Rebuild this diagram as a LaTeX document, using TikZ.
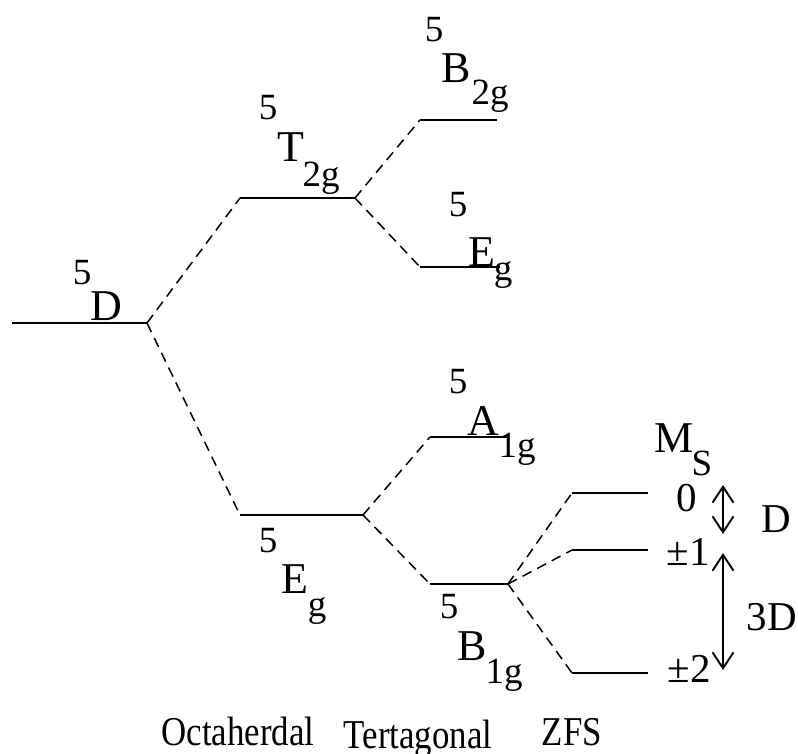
\documentclass[tikz,border=0pt]{standalone}
\usepackage{fontspec}
\setmainfont{Liberation Serif}
\newfontfamily\condfont[FakeStretch=0.85]{Liberation Serif}
\usetikzlibrary{arrows.meta}
\begin{document}
\begin{tikzpicture}[x=1pt,y=-1pt,
  level/.style={line width=1.9pt},
  split/.style={line width=1.5pt,dash pattern=on 10pt off 6.5pt},
  mainlbl/.style={anchor=base,inner sep=0pt,font=\fontsize{44}{48}\selectfont},
  zfslbl/.style={anchor=base,inner sep=0pt,font=\fontsize{41}{44}\selectfont},
  suplbl/.style={anchor=base,inner sep=0pt,font=\fontsize{37}{40}\selectfont},
  sublbl/.style={anchor=base,inner sep=0pt,font=\fontsize{37}{40}\selectfont},
  axislbl/.style={anchor=base,inner sep=0pt,font=\condfont\fontsize{41}{44}\selectfont},
  gap/.style={line width=1.9pt,{Straight Barb[length=16pt,width=21pt]}-{Straight Barb[length=16pt,width=21pt]}}]
\useasboundingbox (0,0) rectangle (798,754);
% level end points
\coordinate (Da) at (12,323);   \coordinate (Db) at (147,323);
\coordinate (Ta) at (240,198);  \coordinate (Tb) at (355,198);
\coordinate (Ea) at (240,515);  \coordinate (Eb) at (363,515);
\coordinate (B2a) at (420,120); \coordinate (B2b) at (497,120);
\coordinate (Eta) at (420,267); \coordinate (Etb) at (500,267);
\coordinate (Aa) at (430,437);  \coordinate (Ab) at (507,437);
\coordinate (B1a) at (430,584); \coordinate (B1b) at (508,584);
\coordinate (Z0a) at (572,493); \coordinate (Z0b) at (648,493);
\coordinate (Z1a) at (572,550); \coordinate (Z1b) at (648,550);
\coordinate (Z2a) at (572,673); \coordinate (Z2b) at (648,673);
% levels
\draw[level] (Da) -- (Db);
\draw[level] (Ta) -- (Tb);
\draw[level] (Ea) -- (Eb);
\draw[level] (B2a) -- (B2b);
\draw[level] (Eta) -- (Etb);
\draw[level] (Aa) -- (Ab);
\draw[level] (B1a) -- (B1b);
\draw[level] (Z0a) -- (Z0b);
\draw[level] (Z1a) -- (Z1b);
\draw[level] (Z2a) -- (Z2b);
% splittings
\draw[split] (Db) -- (Ta);
\draw[split] (Db) -- (Ea);
\draw[split] (Tb) -- (B2a);
\draw[split] (Tb) -- (Eta);
\draw[split] (Eb) -- (Aa);
\draw[split] (Eb) -- (B1a);
\draw[split] (B1b) -- (Z0a);
\draw[split] (B1b) -- (Z1a);
\draw[split] (B1b) -- (Z2a);
% term labels
\node[suplbl] (d5) at (82,284) {5};
\node[mainlbl] (dD) at (106,320) {D};
\node[suplbl] (t5) at (268,120) {5};
\node[mainlbl] (tT) at (291,162) {T};
\node[sublbl] (tsub) at (321,187) {2g};
\node[suplbl] (b25) at (434,42) {5};
\node[mainlbl] (b2B) at (456,83) {B};
\node[sublbl] (b2sub) at (490,105) {2g};
\node[suplbl] (et5) at (458,217) {5};
\node[mainlbl] (etE) at (482,266) {E};
\node[sublbl] (etsub) at (503,280) {g};
\node[suplbl] (a5) at (458,393) {5};
\node[mainlbl] (aA) at (483,435) {A};
\node[sublbl] (asub) at (517,457) {1g};
\node[suplbl] (e5) at (268,552) {5};
\node[mainlbl] (eE) at (295,593) {E};
\node[sublbl] (esub) at (317,616) {g};
\node[suplbl] (b15) at (449,618) {5};
\node[mainlbl] (b1B) at (472,660) {B};
\node[sublbl] (b1sub) at (504,683) {1g};
% ZFS labels
\node[mainlbl] (msM) at (674,452) {M};
\node[sublbl] (msS) at (702,475) {S};
\node[zfslbl] (m0) at (687,511) {0};
\node[zfslbl] (m1) at (688,565) {±1};
\node[zfslbl] (m2) at (689,682) {±2};
% gaps
\coordinate (g0t) at (723,485); \coordinate (g0b) at (723,534);
\coordinate (g1t) at (723,553); \coordinate (g1b) at (723,670);
\draw[gap] (g0t) -- (g0b);
\draw[gap] (g1t) -- (g1b);
\node[zfslbl] (gD) at (776,532) {D};
\node[zfslbl] (g3D) at (772,630) {3D};
% axis labels
\node[axislbl] (oct) at (238,745) {Octaherdal};
\node[axislbl] (tet) at (418,748) {Tertagonal};
\node[axislbl] (zfs) at (572,745) {ZFS};
\end{tikzpicture}
\end{document}
